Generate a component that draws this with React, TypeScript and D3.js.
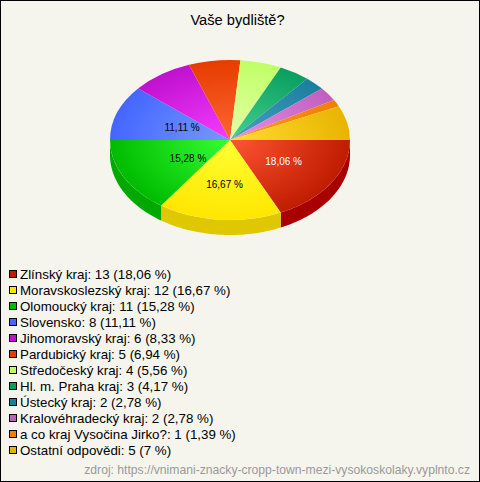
import React from "react";
import * as d3 from "d3";

const categories = ["Zlínský kraj","Moravskoslezský kraj","Olomoucký kraj","Slovensko","Jihomoravský kraj","Pardubický kraj","Středočeský kraj","Hl. m. Praha kraj","Ústecký kraj","Kralovéhradecký kraj","a co kraj Vysočina Jirko?","Ostatní odpovědi"];
const counts = [13,12,11,8,6,5,4,3,2,2,1,5];
const percents = ["18,06","16,67","15,28","11,11","8,33","6,94","5,56","4,17","2,78","2,78","1,39","7"];
const sharePct = [18.06,16.67,15.28,11.11,8.33,6.94,5.56,4.17,2.78,2.78,1.39,6.94];
const edgeColors = ["#c01c00","#ffe600","#00bb00","#4466ff","#c010d0","#e63c00","#bfff66","#0a9f5f","#1a7f9f","#bf5fbf","#ef7f00","#e8b400"];
const innerColors = ["#ff5533","#ffff33","#33ff33","#7799ff","#f53cff","#ff6633","#e6ffaa","#44d090","#4aa0c0","#e890e8","#ff9a20","#ffdd33"];
const sideColors = ["#a80000","#e0c800","#00a800","#3050d0","#a000b0","#c03000","#a0e050","#088050","#106080","#a04aa0","#c06000","#c89800"];
const labelled = [true,true,true,true,false,false,false,false,false,false,false,false];
const labelFill = ["#ffffff","#000000","#000000","#000000"];
const labelRadiusX = [0.53,0.52,0.395,0.425];
const labelRadiusY = [0.51,0.56,0.51,0.44];

const W = 480, H = 482;
const cx = 230, cy = 140, rx = 120, ry = 80, depth = 15;
const FONT = "Liberation Sans, Arial, sans-serif";

export default function App() {
  React.useEffect(() => {
    document.body.style.margin = "0";
  }, []);
  const pie = d3.pie<number>().sort(null).startAngle(Math.PI / 2).endAngle(Math.PI * 2.5)(sharePct);
  const arc = d3.arc<any>().innerRadius(0).outerRadius(rx);
  const yScale = ry / rx;
  // d3 angle 0 = 12 o'clock, clockwise
  const px = (a: number, r = rx) => Math.sin(a) * r;
  const py = (a: number, r = rx) => -Math.cos(a) * r * yScale;

  const sidePath = (a0: number, a1: number) => {
    const lo = Math.max(a0, Math.PI / 2), hi = Math.min(a1, Math.PI * 1.5);
    if (hi <= lo) return null;
    const steps = d3.range(0, 41).map((i) => lo + ((hi - lo) * i) / 40);
    const top = steps.map((a) => [px(a), py(a)] as [number, number]);
    const bottom = steps.slice().reverse().map((a) => [px(a), py(a) + depth] as [number, number]);
    return d3.line()([...top, ...bottom]) + "Z";
  };

  const legendStep = 16;

  return (
    <svg width={W} height={H} style={{ display: "block" }} fontFamily={FONT}>
      <defs>
        {pie.map((_, i) => (
          <radialGradient key={i} id={`g${i}`} gradientUnits="userSpaceOnUse" cx={0} cy={0} r={rx}>
            <stop offset="0" stopColor={innerColors[i]} />
            <stop offset="1" stopColor={edgeColors[i]} />
          </radialGradient>
        ))}
      </defs>
      <rect x={0.5} y={0.5} width={W - 1} height={H - 1} fill="#f5f5ee" stroke="#000" />
      <text x={237.5} y={25} textAnchor="middle" fontSize={14.67} fill="#000">Vaše bydliště?</text>
      <g transform={`translate(${cx},${cy})`}>
        {pie.map((d, i) => {
          const p = sidePath(d.startAngle, d.endAngle);
          return p ? <path key={i} d={p} fill={sideColors[i]} /> : null;
        })}
        <g transform={`scale(1,${yScale})`}>
          {pie.map((d, i) => (
            <path key={i} d={arc(d) as string} fill={`url(#g${i})`} />
          ))}
        </g>
        {pie.map((d, i) => {
          if (!labelled[i]) return null;
          const a = (d.startAngle + d.endAngle) / 2;
          return (
            <text key={i} x={px(a, rx * labelRadiusX[i])} y={py(a, rx * labelRadiusY[i]) + 3.5} textAnchor="middle" fontSize={10} fill={labelFill[i]}>
              {percents[i]} %
            </text>
          );
        })}
      </g>
      {categories.map((c, i) => {
        const y = 271 + i * legendStep;
        return (
          <g key={c}>
            <rect x={9.5} y={y - 0.5} width={7} height={7} fill={edgeColors[i]} stroke="#000" />
            <text x={20} y={y + 8} fontSize={13.33} fill="#000">{`${c}: ${counts[i]} (${percents[i]} %)`}</text>
          </g>
        );
      })}
      <text x={470} y={474} textAnchor="end" fontSize={12.15} fill="#999">zdroj: https://vnimani-znacky-cropp-town-mezi-vysokoskolaky.vyplnto.cz</text>
    </svg>
  );
}
